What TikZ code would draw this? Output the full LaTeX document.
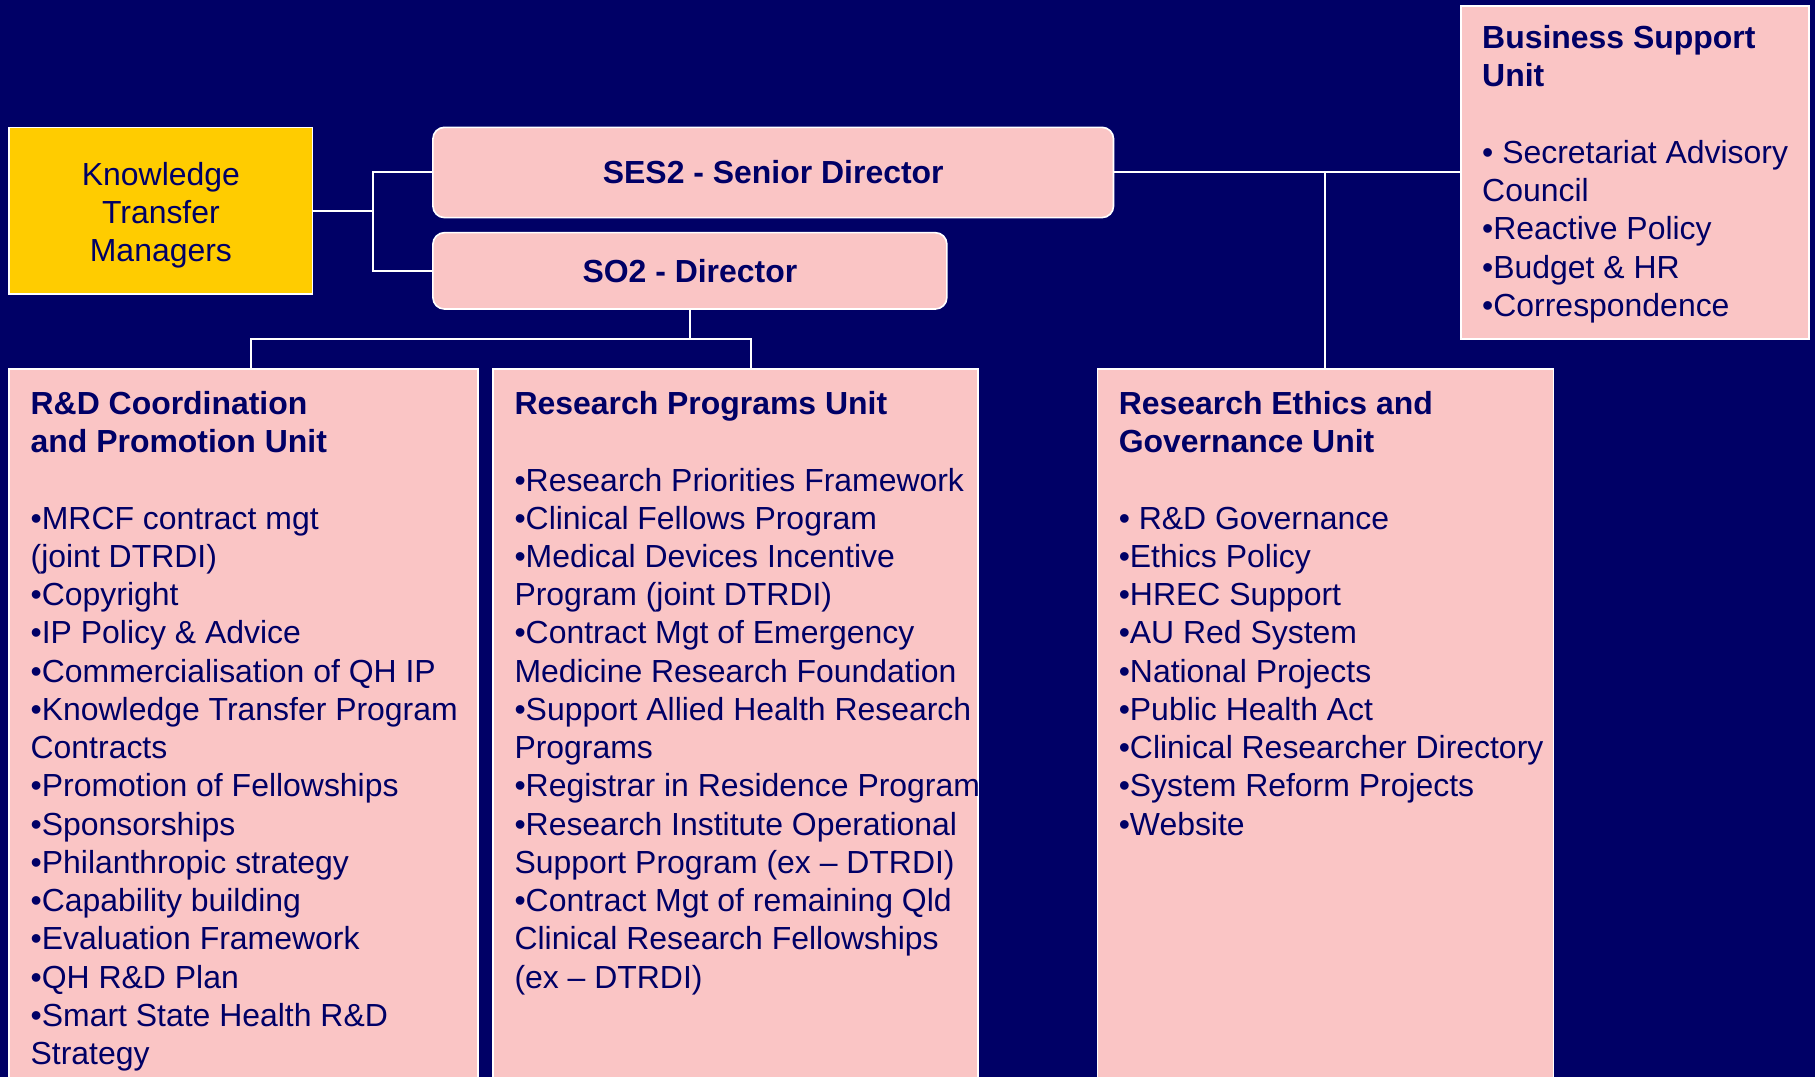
\documentclass[tikz,border=0pt]{standalone}
\usepackage{fontspec}
\setmainfont{Liberation Sans}
\usepackage{xcolor}
\usepackage{tikz}
\usetikzlibrary{positioning}

\definecolor{slidebg}{RGB}{0,0,102}
\definecolor{unitpink}{RGB}{250,197,197}
\definecolor{ktmgold}{RGB}{255,204,0}
\definecolor{inknavy}{RGB}{0,0,102}
\newcommand{\slidesize}{\fontsize{15.7}{18.8}\selectfont}

\tikzset{
  unitbox/.style={rectangle, draw=white, line width=0.8pt, fill=unitpink, anchor=north west, inner sep=0pt},
  headbox/.style={rectangle, rounded corners=0.2cm, draw=white, line width=0.8pt, fill=unitpink, inner sep=0pt, text=inknavy, font=\slidesize\bfseries},
  goldbox/.style={rectangle, draw=white, line width=0.8pt, fill=ktmgold, inner sep=0pt},
  unittext/.style={inner sep=0pt, align=left, text=inknavy, font=\slidesize},
  link/.style={draw=white, line width=1pt}
}

\begin{document}
\begin{tikzpicture}[node distance=0cm, outer sep=0pt]
    \clip (0,0) rectangle (31.36,-18.6);
    \fill [slidebg] (0,0) rectangle (31.36,-18.6);

    % top row
    \node [goldbox, minimum width=5.24cm, minimum height=2.88cm] (ktm) at (2.78,-3.64) {};
    \node [unittext, align=center] (ktmtext) at ([yshift=-0.08cm]ktm.center) {Knowledge\\Transfer\\Managers};
    \node [headbox, minimum width=11.76cm, minimum height=1.56cm] (ses) at (13.36,-2.98) {\raisebox{-0.04cm}{SES2 - Senior Director}};
    \node [headbox, minimum width=8.88cm, minimum height=1.32cm] (so) at (11.92,-4.68) {\raisebox{-0.02cm}{SO2 - Director}};
    \node [unitbox, minimum width=6.02cm, minimum height=5.76cm] (bsu) at (25.24,-0.10) {};

    % unit boxes
    \node [unitbox, minimum width=8.10cm, minimum height=12.5cm] (rd) at (0.16,-6.38) {};
    \node [unitbox, minimum width=8.38cm, minimum height=12.5cm] (rp) at (8.52,-6.38) {};
    \node [unitbox, minimum width=7.88cm, minimum height=12.5cm] (reg) at (18.96,-6.38) {};

    % connectors
    \coordinate (split) at (6.44,-3.64);
    \coordinate (fork) at (11.92,-5.86);
    \coordinate (rdtop) at ([xshift=4.18cm]rd.north west);
    \coordinate (rptop) at ([xshift=4.45cm]rp.north west);
    \draw [link] (ktm.east) -- (split);
    \draw [link] (ses.west) -| (split) |- (so.west);
    \draw [link] (so.south) -- (fork);
    \draw [link] (rdtop) |- (fork) -| (rptop);
    \draw [link] (ses.east) -- (ses.east -| bsu.west);
    \draw [link] (reg.north) -- (reg.north |- ses.east);

    % unit texts
    \node [unittext, below right=0.28cm and 0.37cm of bsu.north west] (bsutext) {\strut\textbf{Business Support}\\ \textbf{Unit}\\[18.8pt]
        • Secretariat Advisory\\ Council\\ •Reactive Policy\\ •Budget \& HR\\ •Correspondence};
    \node [unittext, below right=0.32cm and 0.37cm of rd.north west] (rdtext) {\strut\textbf{R\&D Coordination}\\ \textbf{and Promotion Unit}\\[18.8pt]
        •MRCF contract mgt\\ (joint DTRDI)\\ •Copyright\\ •IP Policy \& Advice\\ •Commercialisation of QH IP\\
        •Knowledge Transfer Program\\ Contracts\\ •Promotion of Fellowships\\ •Sponsorships\\ •Philanthropic strategy\\
        •Capability building\\ •Evaluation Framework\\ •QH R\&D Plan\\ •Smart State Health R\&D\\ Strategy};
    \node [unittext, below right=0.32cm and 0.37cm of rp.north west] (rptext) {\strut\textbf{Research Programs Unit}\\[18.8pt]
        •Research Priorities Framework\\ •Clinical Fellows Program\\ •Medical Devices Incentive\\ Program (joint DTRDI)\\
        •Contract Mgt of Emergency\\ Medicine Research Foundation\\ •Support Allied Health Research\\ Programs\\
        •Registrar in Residence Program\\ •Research Institute Operational\\ Support Program (ex – DTRDI)\\
        •Contract Mgt of remaining Qld\\ Clinical Research Fellowships\\ (ex – DTRDI)};
    \node [unittext, below right=0.32cm and 0.37cm of reg.north west] (regtext) {\strut\textbf{Research Ethics and}\\ \textbf{Governance Unit}\\[18.8pt]
        • R\&D Governance\\ •Ethics Policy\\ •HREC Support\\ •AU Red System\\ •National Projects\\ •Public Health Act\\
        •Clinical Researcher Directory\\ •System Reform Projects\\ •Website};
\end{tikzpicture}
\end{document}
